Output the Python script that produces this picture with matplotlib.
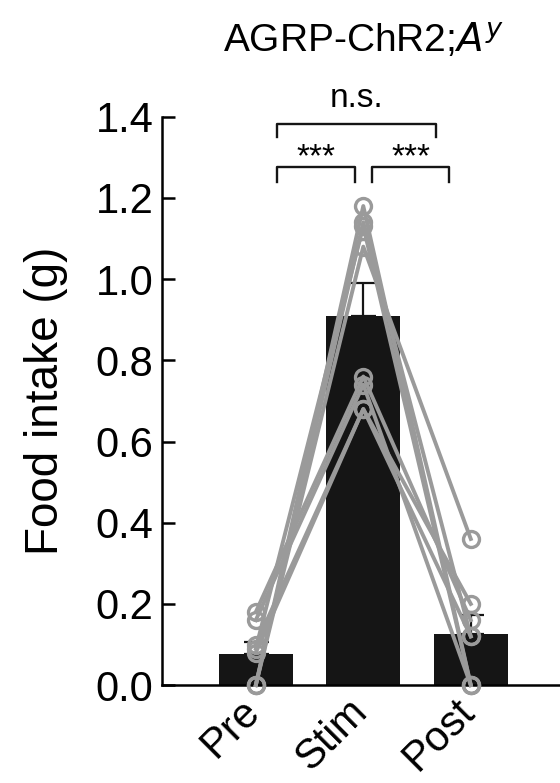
import numpy as np
import matplotlib.pyplot as plt
import matplotlib.transforms as mtransforms

plt.rcParams['font.family'] = ['Liberation Sans', 'DejaVu Sans']

groups = ["Pre", "Stim", "Post"]
means = [0.077, 0.91, 0.126]
sems = [0.028, 0.08, 0.047]

# one row per mouse: Pre, Stim, Post
mice = [
    [0.00, 1.18, 0.00],
    [0.00, 1.14, 0.12],
    [0.09, 1.13, 0.00],
    [0.00, 1.08, 0.36],
    [0.18, 0.76, 0.16],
    [0.16, 0.74, 0.00],
    [0.10, 0.68, 0.20],
    [0.08, 0.68, 0.12],
]

fig = plt.figure(figsize=(5.6, 7.83), dpi=100)
ax = fig.add_axes([0.289, 0.125, 0.711, 0.726])

x = np.arange(len(groups))
ax.bar(x, means, width=0.69, color='#151515', zorder=1)
ax.errorbar(x, means, yerr=[np.zeros(3), sems], fmt='none', ecolor='#151515',
            elinewidth=1.6, capsize=9, capthick=1.6, zorder=2)

for m in mice:
    ax.plot(x, m, color='#9a9a9a', lw=2.8, marker='o', markersize=11.5,
            markerfacecolor='none', markeredgecolor='#9a9a9a', markeredgewidth=2.4,
            zorder=3, clip_on=False)

ax.set_xlim(-0.874, 2.83)
ax.set_ylim(0, 1.4)
ax.set_yticks(np.arange(0, 1.41, 0.2))
ax.set_yticklabels([f"{v:.1f}" for v in np.arange(0, 1.41, 0.2)])
ax.set_xticks(x)
ax.set_xticklabels([])
# rotated group labels, nudged left like the original
shift = mtransforms.ScaledTranslation(-0.16, -0.06, fig.dpi_scale_trans)
for xi, g in zip(x, groups):
    ax.text(xi, 0, g, rotation=45, ha='right', va='top', rotation_mode='anchor',
            fontsize=30, transform=ax.get_xaxis_transform() + shift, clip_on=False)
ax.tick_params(axis='y', direction='in', length=9, width=1.8, labelsize=30, pad=6)
ax.tick_params(axis='x', length=0)
ax.spines['top'].set_visible(False)
ax.spines['right'].set_visible(False)
ax.spines['left'].set_linewidth(1.8)
ax.spines['bottom'].set_linewidth(1.8)
ax.set_ylabel("Food intake (g)", fontsize=33, labelpad=20)

# significance brackets
def bracket(x0, x1, y, h, txt, ty):
    ax.plot([x0, x0, x1, x1], [y - h, y, y, y - h], color='#151515', lw=1.7, clip_on=False)
    ax.text((x0 + x1) / 2, ty, txt, ha='center', va='center', fontsize=24, clip_on=False)

bracket(0.195, 1.68, 1.381, 0.03, "n.s.", 1.445)
bracket(0.195, 0.92, 1.277, 0.037, "***", 1.300)
bracket(1.08, 1.80, 1.277, 0.037, "***", 1.300)

fig.text(0.65, 0.948, "AGRP-ChR2;$\\mathit{A}^{y}$", ha='center', va='center', fontsize=28)

fig.savefig("out.png", dpi=100)
